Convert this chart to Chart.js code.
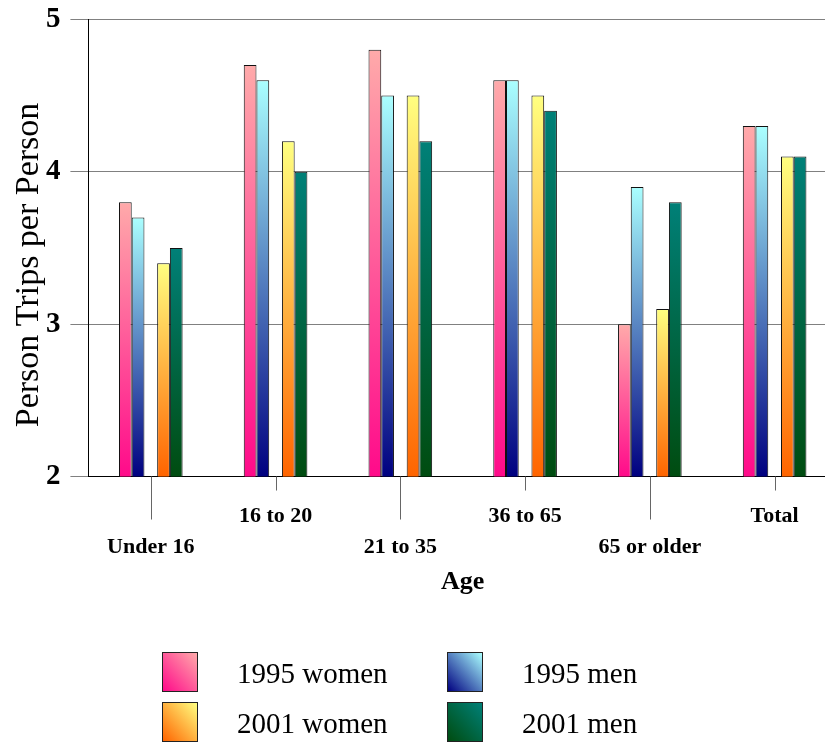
<!DOCTYPE html>
<html>
<head>
<meta charset="utf-8">
<script src="https://cdn.jsdelivr.net/npm/chart.js@4"></script>
<style>
  html, body { margin: 0; padding: 0; background: #fff; overflow: hidden; }
  #wrap { position: relative; width: 837px; height: 742px; overflow: hidden; }
  #chart { position: absolute; left: 0; top: -8px; }
  #legend { position: absolute; left: 0; top: 0; width: 837px; height: 742px; pointer-events: none;
            font-family: 'Liberation Serif', 'Times New Roman', serif; font-size: 29px; color: #000; }
  .lg-box { position: absolute; width: 36px; height: 40px; border: 1px solid #222; box-sizing: border-box; }
  .lg-text { position: absolute; white-space: nowrap; line-height: 1; }
</style>
</head>
<body>
<div id="wrap">
  <canvas id="chart" width="837" height="750"></canvas>
  <div id="legend"></div>
</div>
<script>
// Person trips per person by age group
const categories = ['Under 16', '16 to 20', '21 to 35', '36 to 65', '65 or older', 'Total'];
const women1995 = [3.8, 4.7, 4.8, 4.6, 3.0, 4.3];
const men1995   = [3.7, 4.6, 4.5, 4.6, 3.9, 4.3];
const women2001 = [3.4, 4.2, 4.5, 4.5, 3.1, 4.1];
const men2001   = [3.5, 4.0, 4.2, 4.4, 3.8, 4.1];
const yTicks = [2, 3, 4, 5];

// gradient stops per series: [light top, dark bottom]
const shades = {
  '1995 women': ['#ffaaaa', '#ff0a8a'],
  '1995 men':   ['#aaffff', '#000080'],
  '2001 women': ['#ffff80', '#ff6400'],
  '2001 men':   ['#008078', '#004c10']
};

const serif = "'Liberation Serif', 'Times New Roman', serif";

function barFill(label) {
  return function (ctx) {
    const chart = ctx.chart;
    const [light, dark] = shades[label];
    if (!chart.chartArea || ctx.type !== 'data' || ctx.raw == null) return dark;
    const y = chart.scales.y;
    const top = y.getPixelForValue(ctx.raw);
    const bottom = y.getPixelForValue(y.min);
    const g = chart.ctx.createLinearGradient(0, top, 0, bottom);
    g.addColorStop(0, light);
    g.addColorStop(1, dark);
    return g;
  };
}

function series(label, data) {
  return {
    label, data,
    backgroundColor: barFill(label),
    borderColor: '#111',
    borderWidth: 1,
    borderSkipped: 'bottom'
  };
}

// empty slot keeps the gap between the 1995 and 2001 pairs
const spacer = { label: '', data: categories.map(() => null), backgroundColor: 'rgba(0,0,0,0)', borderWidth: 0 };

const datasets = [
  series('1995 women', women1995),
  series('1995 men', men1995),
  spacer,
  series('2001 women', women2001),
  series('2001 men', men2001)
];

// tick marks under the category axis: long ones for the lower row of labels
const xTickMarks = {
  id: 'xTickMarks',
  afterDraw(chart) {
    const s = chart.scales.x;
    const c = chart.ctx;
    c.save();
    c.strokeStyle = '#666';
    c.lineWidth = 1;
    s.ticks.forEach((t, i) => {
      const x = Math.round(s.getPixelForTick(i)) + 0.5;
      const len = i % 2 === 0 ? 43 : 14;
      c.beginPath();
      c.moveTo(x, s.top);
      c.lineTo(x, s.top + len);
      c.stroke();
    });
    c.restore();
  }
};

new Chart(document.getElementById('chart'), {
  type: 'bar',
  data: { labels: categories, datasets },
  plugins: [xTickMarks],
  options: {
    responsive: false,
    devicePixelRatio: 1,
    animation: false,
    layout: { padding: { left: 23, right: 0, top: 2, bottom: 147 } },
    plugins: { legend: { display: false }, tooltip: { enabled: false } },
    datasets: { bar: { categoryPercentage: 0.51, barPercentage: 1.0 } },
    scales: {
      x: {
        grid: { display: false },
        border: { display: true, color: '#000', width: 1 },
        ticks: {
          padding: 16,
          color: '#000',
          maxRotation: 0,
          autoSkip: false,
          font: { family: serif, size: 22, weight: 'bold', lineHeight: 1.42 },
          callback(v, i) {
            const c = this.getLabelForValue(v);
            return i % 2 === 0 ? ['', c] : c;
          }
        },
        title: {
          display: true, text: 'Age', color: '#000',
          font: { family: serif, size: 26, weight: 'bold', lineHeight: 1 },
          padding: { top: -10, bottom: 0 }
        }
      },
      y: {
        min: 2, max: 5,
        afterBuildTicks(scale) { scale.ticks = yTicks.map(v => ({ value: v })); },
        grid: { color: '#808080', lineWidth: 1, tickLength: 18, tickColor: '#808080' },
        border: { display: true, color: '#000', width: 1 },
        ticks: {
          padding: 10, color: '#000',
          font: { family: serif, size: 29, weight: 'bold' }
        },
        title: {
          display: true, text: 'Person Trips per Person    ', color: '#000',
          font: { family: serif, size: 34, weight: 'normal', lineHeight: 0.38 },
          padding: { top: 0, bottom: 0 }
        }
      }
    }
  }
});

// legend: two columns, two rows
const legendItems = ['1995 women', '1995 men', '2001 women', '2001 men'];
const legend = document.getElementById('legend');
legendItems.forEach((label, i) => {
  const col = i % 2, row = Math.floor(i / 2);
  const bx = col === 0 ? 162 : 447;
  const by = 652 + row * 50;
  const [light, dark] = shades[label];
  const box = document.createElement('div');
  box.className = 'lg-box';
  box.style.left = bx + 'px';
  box.style.top = by + 'px';
  box.style.background = `linear-gradient(to bottom left, ${light}, ${dark})`;
  legend.appendChild(box);
  const t = document.createElement('div');
  t.className = 'lg-text';
  t.textContent = label;
  t.style.left = (bx + 75) + 'px';
  t.style.top = (by + 7) + 'px';
  legend.appendChild(t);
});
</script>
</body>
</html>
